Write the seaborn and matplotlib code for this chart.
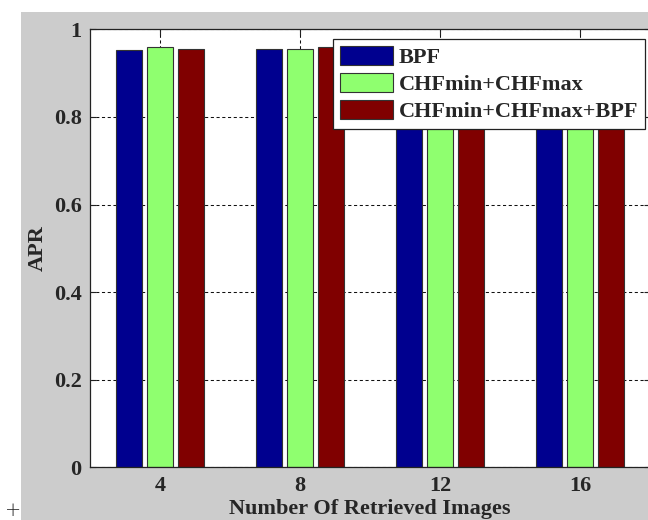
import numpy as np
import pandas as pd
import matplotlib
matplotlib.use("Agg")
import matplotlib.pyplot as plt
import seaborn as sns
from matplotlib.patches import Rectangle

# values (groups 12 and 16 are partly hidden by the legend)
retrieved = ["4", "8", "12", "16"]
methods = ["BPF", "CHFmin+CHFmax", "CHFmin+CHFmax+BPF"]
apr_bpf = [0.953, 0.955, 0.952, 0.954]
apr_chf = [0.959, 0.955, 0.956, 0.955]
apr_all = [0.955, 0.959, 0.957, 0.958]
colors = ["#00008f", "#8fff6f", "#800000"]
yticks = [0, 0.2, 0.4, 0.6, 0.8, 1]
ytick_labels = ["0", "0.2", "0.4", "0.6", "0.8", "1"]

df = pd.DataFrame({
    "k": retrieved * 3,
    "apr": apr_bpf + apr_chf + apr_all,
    "method": [m for m in methods for _ in retrieved],
})

sns.set_style("ticks")
plt.rcParams["font.family"] = ["Liberation Serif", "DejaVu Serif"]
plt.rcParams["font.weight"] = "bold"
plt.rcParams["font.size"] = 16

W, H = 648, 520
fig = plt.figure(figsize=(W / 100, H / 100), dpi=100, facecolor="white")
# grey figure area, cropped image leaves a white strip at top/left
fig.patches.append(Rectangle((21 / W, 0), 1, 1 - 12 / H, transform=fig.transFigure,
                             facecolor="#cccccc", edgecolor="none", zorder=-10))
fig.text(13 / W, 1 - 511 / H, "+", fontsize=14, fontweight="light", color="#222222",
         family="DejaVu Sans", ha="center", va="center")

ax = fig.add_axes([90 / W, 1 - 467.4 / H, 560 / W, 438 / H])
ax.set_facecolor("white")

sns.barplot(data=df, x="k", y="apr", hue="method", order=retrieved, hue_order=methods,
            palette=colors, saturation=1, width=0.67, gap=0.18, edgecolor="#333333",
            linewidth=0.8, errorbar=None, ax=ax)

ax.set_ylim(0, 1)
ax.set_xlim(-0.5, 3.5)
ax.set_yticks(yticks)
ax.set_yticklabels(ytick_labels)
ax.set_axisbelow(True)
ax.grid(True, color="#111111", linestyle=(0, (3, 2.5)), linewidth=0.75)
ax.tick_params(direction="in", length=4, width=0.8, color="#222222",
               top=True, right=True, pad=6, labelsize=16)
for s in ax.spines.values():
    s.set_linewidth(0.9)
    s.set_color("#222222")

ax.set_xlabel("Number Of Retrieved Images", fontsize=16, fontweight="bold", labelpad=2)
ax.set_ylabel("APR", fontsize=16, fontweight="bold", labelpad=4)

handles, labels = ax.get_legend_handles_labels()
ax.get_legend().remove()
leg = fig.legend(handles, labels, loc="upper right", bbox_to_anchor=(645 / W, 1 - 39 / H),
                 fancybox=False, framealpha=1, edgecolor="#222222", fontsize=16,
                 handlelength=2.4, handleheight=0.95, labelspacing=0.22,
                 handletextpad=0.25, borderpad=0.3, borderaxespad=0)
leg.get_frame().set_linewidth(0.9)

fig.savefig("out.png", dpi=100, facecolor=fig.get_facecolor())
